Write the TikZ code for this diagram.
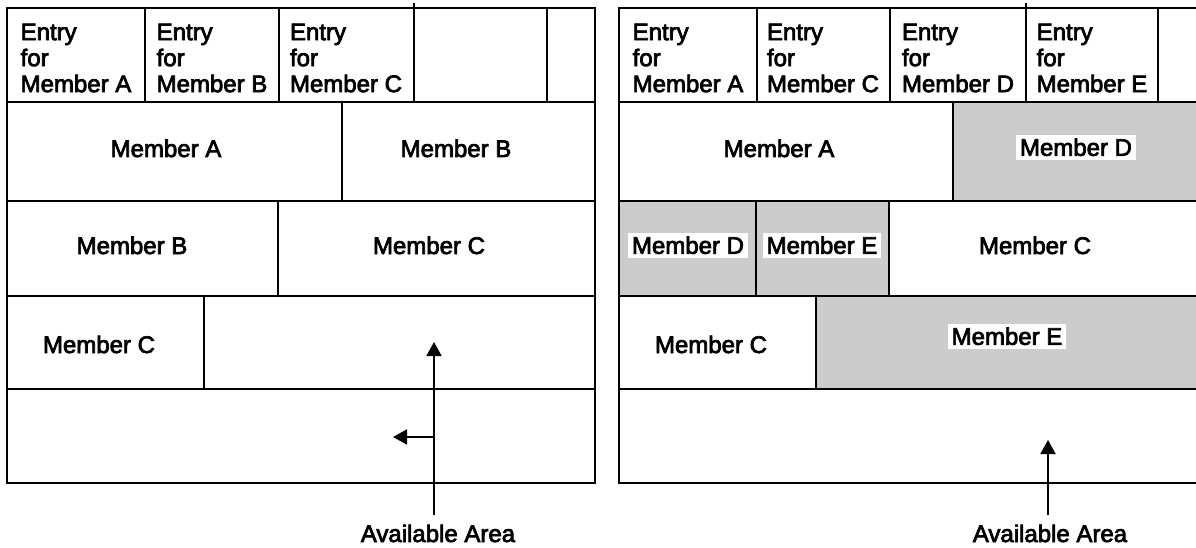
\documentclass[tikz,border=0pt]{standalone}
\usepackage{fontspec}
\setmainfont{Liberation Sans}
\newfontfamily\mfont{Liberation Sans}[FakeBold=3]
\usetikzlibrary{arrows.meta}
\begin{document}
\begin{tikzpicture}[x=1pt,y=-1pt,
  hline/.style={line width=2pt, line cap=rect},
  vline/.style={line width=1.4pt},
  shade/.style={fill=black!20, draw=none},
  lbl/.style={font=\mfont\fontsize{24}{26}\selectfont, inner sep=0pt, anchor=base},
  slbl/.style={font=\mfont\fontsize{24}{26}\selectfont, fill=white, inner sep=4pt, text height=17pt, text depth=0pt, anchor=south},
  entry/.style={font=\mfont\fontsize{24}{26}\selectfont, align=left, inner sep=0pt},
  arr/.style={line width=1.8pt, -{Triangle[length=14pt,width=15pt]}}]
\useasboundingbox (0,0) rectangle (1196,548);

% ---------- left panel ----------
\draw[vline] (414,8) -- (414,3);
\foreach \y in {8,102,201,296,389,483} \draw[hline] (7,\y) -- (595,\y);
\draw[hline] (7,8) -- (7,483);
\draw[hline] (595,8) -- (595,483);
\foreach \x in {145,279,414,547} \draw[vline] (\x,8) -- (\x,102);
\draw[vline] (342,102) -- (342,201);
\draw[vline] (278,201) -- (278,296);
\draw[vline] (204,296) -- (204,389);

\node[entry] (eA) at (76,58) {Entry\\for\\Member A};
\node[entry] (eB) at (212,58) {Entry\\for\\Member B};
\node[entry] (eC) at (346,58) {Entry\\for\\Member C};

\node[lbl] (lA2) at (166,157) {Member A};
\node[lbl] (lB2) at (456,157) {Member B};
\node[lbl] (lB3) at (132,254) {Member B};
\node[lbl] (lC3) at (429,254) {Member C};
\node[lbl] (lC4) at (99,353) {Member C};

\node[lbl] (availL) at (438,542) {Available Area};
\coordinate (botL) at (434,515);
\coordinate (tipL) at (434,342);
\coordinate (brL) at (434,437);
\coordinate (tipLl) at (393,437);
\draw[arr] (botL) -- (tipL);
\draw[arr] (brL) -- (tipLl);

% ---------- right panel ----------
\fill[shade] (953,102) rectangle (1196,201);
\fill[shade] (619,201) rectangle (889,296);
\fill[shade] (816,296) rectangle (1196,389);

\draw[vline] (1026,8) -- (1026,3);
\foreach \y in {8,102,201,296,389,483} \draw[hline] (619,\y) -- (1196,\y);
\draw[hline] (619,8) -- (619,483);
\foreach \x in {757,890,1026,1158} \draw[vline] (\x,8) -- (\x,102);
\draw[vline] (953,102) -- (953,201);
\draw[vline] (756,201) -- (756,296);
\draw[vline] (889,201) -- (889,296);
\draw[vline] (816,296) -- (816,389);

\node[entry] (rA) at (688,58) {Entry\\for\\Member A};
\node[entry] (rC) at (823,58) {Entry\\for\\Member C};
\node[entry] (rD) at (958,58) {Entry\\for\\Member D};
\node[entry] (rE) at (1092,58) {Entry\\for\\Member E};

\node[lbl] (rA2) at (779,157) {Member A};
\node[slbl] (rD2) at (1076,160) {Member D};
\node[slbl] (rD3) at (688,258) {Member D};
\node[slbl] (rE3) at (822,258) {Member E};
\node[lbl] (rC3) at (1035,254) {Member C};
\node[lbl] (rC4) at (711,353) {Member C};
\node[slbl] (rE4) at (1007,349) {Member E};

\node[lbl] (availR) at (1050,542) {Available Area};
\coordinate (botR) at (1048,515);
\coordinate (tipR) at (1048,440);
\draw[arr] (botR) -- (tipR);
\end{tikzpicture}
\end{document}
